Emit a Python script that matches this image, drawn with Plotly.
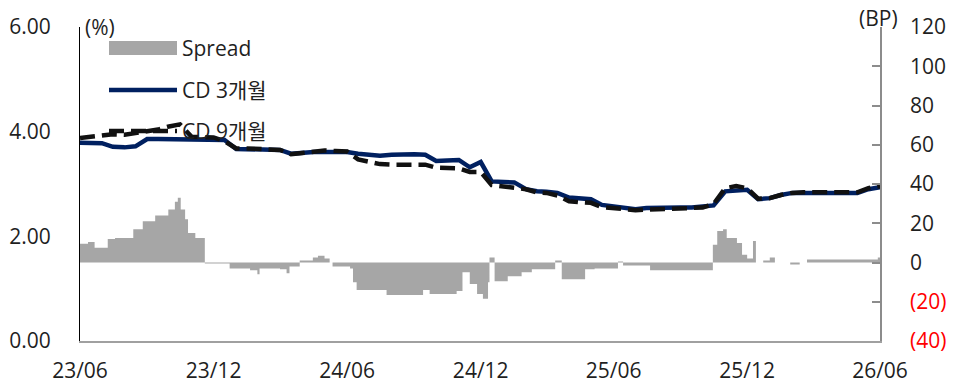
import plotly.graph_objects as go

# ---------------- data ----------------
dates = [
    "2023-06-01", "2023-06-16", "2023-07-01", "2023-07-16", "2023-08-01", "2023-08-16",
    "2023-09-01", "2023-09-16", "2023-10-01", "2023-10-16", "2023-11-01", "2023-11-16",
    "2023-12-01", "2023-12-16", "2024-01-01", "2024-01-16", "2024-02-01", "2024-02-16",
    "2024-03-01", "2024-03-16", "2024-04-01", "2024-04-16", "2024-05-01", "2024-05-16",
    "2024-06-01", "2024-06-16", "2024-07-01", "2024-07-16", "2024-08-01", "2024-08-16",
    "2024-09-01", "2024-09-16", "2024-10-01", "2024-10-16", "2024-11-01", "2024-11-16",
    "2024-12-01", "2024-12-16", "2025-01-01", "2025-01-16", "2025-02-01", "2025-02-16",
    "2025-03-01", "2025-03-16", "2025-04-01", "2025-04-16", "2025-05-01", "2025-05-16",
    "2025-06-01", "2025-06-16", "2025-07-01", "2025-07-16", "2025-08-01", "2025-08-16",
    "2025-09-01", "2025-09-16", "2025-10-01", "2025-10-16", "2025-11-01", "2025-11-16",
    "2025-12-01", "2025-12-16", "2026-01-01", "2026-01-16", "2026-02-01", "2026-02-16",
    "2026-03-01", "2026-03-16", "2026-04-01", "2026-04-16", "2026-05-01", "2026-05-16",
    "2026-06-01",
]

cd_3m = [
    3.79, 3.79, 3.78, 3.71, 3.70, 3.72,
    3.86, 3.86, 3.86, 3.86, 3.86, 3.86,
    3.86, 3.84, 3.67, 3.66, 3.65, 3.66,
    3.65, 3.58, 3.60, 3.61, 3.61, 3.61,
    3.61, 3.58, 3.56, 3.54, 3.56, 3.57,
    3.57, 3.56, 3.44, 3.45, 3.46, 3.32,
    3.42, 3.05, 3.04, 3.03, 2.90, 2.86,
    2.85, 2.83, 2.74, 2.72, 2.71, 2.60,
    2.57, 2.53, 2.52, 2.54, 2.55, 2.56,
    2.55, 2.55, 2.56, 2.59, 2.86, 2.88,
    2.89, 2.71, 2.73, 2.79, 2.83, 2.83,
    2.83, 2.83, 2.83, 2.83, 2.83, 2.90,
    2.94,
]

cd_9m = [
    3.88, 3.90, 3.94, 3.95, 3.94, 3.97,
    4.02, 4.04, 4.10, 4.14, 3.90, 3.89,
    3.89, 3.82, 3.68, 3.68, 3.67, 3.67,
    3.65, 3.57, 3.60, 3.63, 3.64, 3.63,
    3.62, 3.47, 3.42, 3.38, 3.37, 3.37,
    3.37, 3.37, 3.31, 3.31, 3.30, 3.23,
    3.23, 2.98, 2.96, 2.94, 2.90, 2.84,
    2.83, 2.78, 2.67, 2.65, 2.64, 2.56,
    2.54, 2.51, 2.50, 2.51, 2.52, 2.53,
    2.53, 2.54, 2.55, 2.62, 2.92, 2.96,
    2.92, 2.72, 2.73, 2.79, 2.83, 2.84,
    2.84, 2.83, 2.83, 2.84, 2.84, 2.92,
    2.96,
]

spread_dates = [
    "2023-06-01", "2023-06-12", "2023-06-21", "2023-07-09", "2023-07-19", "2023-08-13",
    "2023-08-26", "2023-09-12", "2023-09-30", "2023-10-09", "2023-10-13", "2023-10-17",
    "2023-10-23", "2023-10-27", "2023-11-06", "2023-11-19", "2023-12-23", "2024-01-20",
    "2024-01-30", "2024-02-02", "2024-03-01", "2024-03-10", "2024-03-14", "2024-03-28",
    "2024-04-15", "2024-04-22", "2024-05-01", "2024-05-08", "2024-05-12", "2024-06-05",
    "2024-06-09", "2024-06-14", "2024-07-16", "2024-07-25", "2024-09-13", "2024-09-22",
    "2024-10-29", "2024-11-06", "2024-11-16", "2024-11-26", "2024-12-04", "2024-12-11",
    "2024-12-13", "2024-12-20", "2025-01-07", "2025-01-26", "2025-02-09", "2025-03-13",
    "2025-03-22", "2025-04-23", "2025-05-06", "2025-06-07", "2025-06-14", "2025-07-21",
    "2025-10-15", "2025-10-21", "2025-10-29", "2025-11-03", "2025-11-17", "2025-11-24",
    "2025-12-01", "2025-12-09", "2025-12-13", "2025-12-23", "2026-01-01", "2026-01-08",
    "2026-01-29", "2026-02-11", "2026-02-21", "2026-05-26", "2026-05-29", "2026-06-01",
]

spread_bp = [
    9.5, 10.5, 7.5, 12, 12.5, 17,
    21, 24, 27, 31, 33, 27,
    22, 15, 12.5, -0.5, -3, -4,
    -6, -3, -3.5, -5.5, -2, 1,
    2.5, 3.5, 2, 0, -2, -3,
    -10, -14, -14, -16.5, -14, -16,
    -14.5, -5, -11, -16, -18.5, -10,
    2.5, -9.5, -7, -5, -3.5, 1,
    -8.5, -3.5, -3, 0.5, -1.5, -4,
    9, 16, 17, 12.5, 10, 4,
    2, 11, 0, 1, 2.5, 0,
    -1, 0, 1.5, 1.5, 2.5, 2.5,
]

x_tickvals = ["2023-06-01", "2023-12-01", "2024-06-01", "2024-12-01",
              "2025-06-01", "2025-12-01", "2026-06-01"]
x_ticktext = ["23/06", "23/12", "24/06", "24/12", "25/06", "25/12", "26/06"]

left_ticks = [0, 2, 4, 6]
right_ticks = [-40, -20, 0, 20, 40, 60, 80, 100, 120]
right_ticktext = ['<span style="color:#ff0000">(40)</span>',
                  '<span style="color:#ff0000">(20)</span>',
                  "0", "20", "40", "60", "80", "100", "120"]

series_names = ["Spread", "CD 3개월", "CD 9개월"]

# ---------------- styles ----------------
FONT = "Open Sans, Noto Sans CJK KR, sans-serif"
TXT = "#1f1f1f"
GRAY = "#a6a6a6"
NAVY = "#002060"
BLACK = "#111111"
FS = 21

fig = go.Figure()

fig.add_trace(go.Scatter(
    x=spread_dates, y=spread_bp, name=series_names[0], yaxis="y2",
    mode="lines", line=dict(width=0, color=GRAY, shape="hv"),
    fill="tozeroy", fillcolor=GRAY, showlegend=False, hoverinfo="skip",
))
fig.add_trace(go.Scatter(
    x=dates, y=cd_3m, name=series_names[1], mode="lines",
    line=dict(color=NAVY, width=4.5), showlegend=False,
))
fig.add_trace(go.Scatter(
    x=dates, y=cd_9m, name=series_names[2], mode="lines",
    line=dict(color=BLACK, width=4.5, dash="15px,7px"), showlegend=False,
))

# custom legend (symbols + labels), in paper coordinates
lx0, lx1, ltx = 0.03625, 0.12125, 0.1245
rows = [0.9331, 0.7994, 0.6688]
shapes = [
    dict(type="rect", xref="paper", yref="paper", x0=lx0, x1=lx1,
         y0=rows[0] - 0.022, y1=rows[0] + 0.022, fillcolor=GRAY, line=dict(width=0)),
    dict(type="line", xref="paper", yref="paper", x0=lx0, x1=lx1,
         y0=rows[1], y1=rows[1], line=dict(color=NAVY, width=4.5)),
    dict(type="line", xref="paper", yref="paper", x0=lx0, x1=lx1,
         y0=rows[2], y1=rows[2], line=dict(color=BLACK, width=4.5, dash="15px,7px")),
]
annotations = [
    dict(text=name, xref="paper", yref="paper", x=ltx, y=ry, xanchor="left",
         yanchor="middle", showarrow=False, font=dict(size=FS, color=TXT, family=FONT))
    for name, ry in zip(series_names, rows)
]
annotations += [
    dict(text="(%)", xref="paper", yref="paper", x=0.004, y=1.0, xanchor="left",
         yanchor="middle", showarrow=False, font=dict(size=FS, color=TXT, family=FONT)),
    dict(text="(BP)", xref="paper", yref="paper", x=1.025, y=1.03, xanchor="right",
         yanchor="middle", showarrow=False, font=dict(size=FS, color=TXT, family=FONT)),
]

fig.update_layout(
    width=958, height=383,
    margin=dict(l=80, r=78, t=27, b=42, pad=0),
    paper_bgcolor="white", plot_bgcolor="white",
    font=dict(family=FONT, size=FS, color=TXT),
    showlegend=False,
    shapes=shapes, annotations=annotations,
    xaxis=dict(
        type="date", range=["2023-06-01", "2026-06-01"],
        tickvals=x_tickvals, ticktext=x_ticktext, automargin=False,
        showline=True, linecolor="#a0a0a0", linewidth=2,
        ticks="", showgrid=False, zeroline=False,
        ticklabelstandoff=10, tickfont=dict(size=FS),
    ),
    yaxis=dict(
        range=[0, 6], tickvals=left_ticks, tickformat=".2f", automargin=False,
        showline=True, linecolor="#000000", linewidth=1,
        ticks="", showgrid=False, zeroline=False,
        ticklabelstandoff=24, tickfont=dict(size=FS),
    ),
    yaxis2=dict(
        range=[-40, 120], tickvals=right_ticks, ticktext=right_ticktext,
        overlaying="y", side="right", automargin=False,
        showline=True, linecolor="#8c8c8c", linewidth=1.5,
        ticks="inside", ticklen=8, tickcolor="#8c8c8c", tickwidth=1.5,
        showgrid=False, zeroline=False,
        ticklabelstandoff=24, tickfont=dict(size=FS),
    ),
)

fig.write_html("out.html")
